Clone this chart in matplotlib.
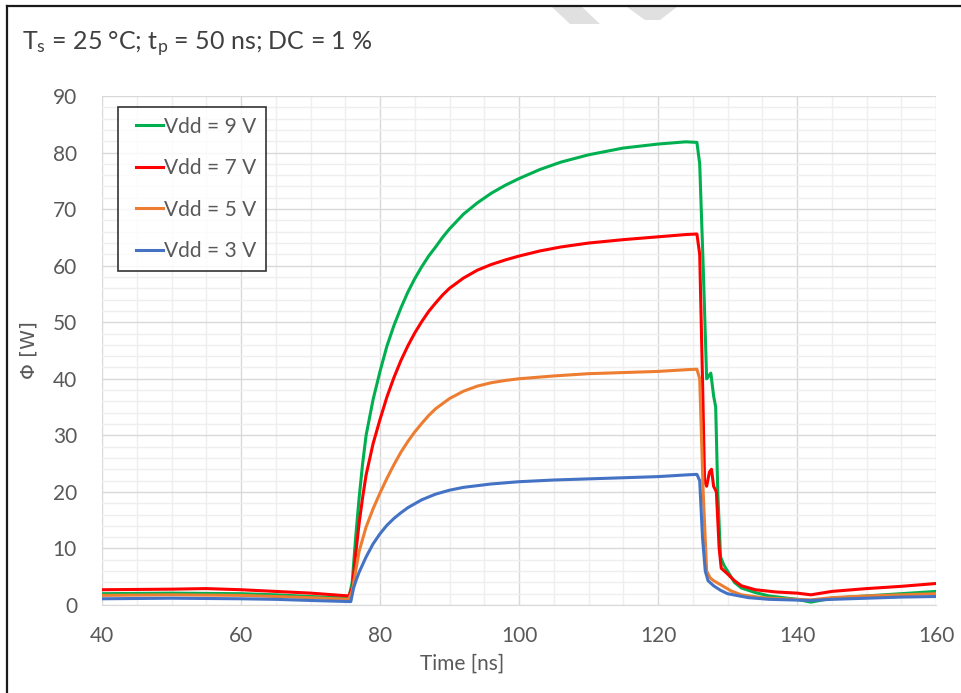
import matplotlib
matplotlib.use('Agg')
import matplotlib.pyplot as plt
from matplotlib.patches import Polygon
from matplotlib.lines import Line2D
from matplotlib.legend_handler import HandlerLine2D
from matplotlib.ticker import MultipleLocator

plt.rcParams['font.family'] = ['Lato', 'DejaVu Sans']
plt.rcParams['mathtext.fontset'] = 'custom'
plt.rcParams['mathtext.rm'] = 'Lato'
plt.rcParams['mathtext.it'] = 'Lato:italic'

# Vdd = 9 V
t_9v = [40, 50, 60, 65, 70, 75.5, 76, 76.5, 77, 77.5, 78, 79, 80, 81, 82, 83, 84, 85,
        86, 87, 88, 89, 90, 92, 94, 96, 98, 100, 103, 106, 110, 115, 120, 124, 125.6,
        126, 126.5, 127, 127.3, 127.6, 128, 128.3, 128.6, 129, 129.5, 130, 131, 132,
        134, 136, 138, 140, 142, 145, 150, 155, 160]
phi_9v = [2.0, 2.1, 2.0, 1.8, 1.5, 1.2, 4, 12, 19, 25, 30, 36.3, 41.3, 45.8, 49.4, 52.5,
          55.3, 57.7, 59.8, 61.7, 63.3, 65.0, 66.5, 69.1, 71.1, 72.8, 74.2, 75.4, 77,
          78.3, 79.6, 80.8, 81.5, 81.9, 81.8, 78, 60, 40, 40.5, 41, 37, 35, 20, 8.5,
          7, 6, 4, 3, 2.2, 1.6, 1.3, 1.0, 0.5, 1.2, 1.6, 2.0, 2.4]

# Vdd = 7 V
t_7v = [40, 50, 55, 60, 65, 70, 75.5, 76, 76.5, 77, 77.5, 78, 79, 80, 81, 82, 83, 84,
        85, 86, 87, 88, 89, 90, 92, 94, 96, 98, 100, 103, 106, 110, 115, 120, 124,
        125.6, 126, 126.4, 126.7, 127, 127.4, 127.7, 128, 128.4, 128.8, 129.1, 130,
        131, 132, 134, 137, 140, 142, 145, 150, 155, 160]
phi_7v = [2.7, 2.8, 2.9, 2.7, 2.4, 2.1, 1.6, 3, 9, 14.5, 19, 23, 28.5, 32.8, 36.8, 40.2,
          43.2, 45.8, 48.1, 50.1, 51.9, 53.4, 54.8, 56, 57.8, 59.2, 60.2, 61, 61.7,
          62.6, 63.3, 64, 64.6, 65.1, 65.5, 65.6, 62, 40, 22, 21, 23.5, 24, 21, 20, 10,
          6.5, 5.5, 4.3, 3.4, 2.7, 2.3, 2.1, 1.8, 2.4, 2.9, 3.3, 3.8]

# Vdd = 5 V
t_5v = [40, 50, 60, 65, 70, 75.5, 76, 76.5, 77, 78, 79, 80, 81, 82, 83, 84, 85, 86,
        87, 88, 90, 92, 94, 96, 98, 100, 105, 110, 115, 120, 124, 125.6, 126, 126.5,
        127, 127.5, 128, 129.4, 130.5, 132, 135, 138, 140, 142, 145, 150, 155, 160]
phi_5v = [1.7, 1.8, 1.7, 1.5, 1.3, 1.0, 2.5, 6, 9.5, 13.8, 17, 19.8, 22.4, 24.8, 27,
          28.9, 30.6, 32.1, 33.5, 34.7, 36.5, 37.8, 38.7, 39.3, 39.7, 40, 40.5, 40.9,
          41.1, 41.3, 41.6, 41.7, 40, 20, 6, 4.8, 4.3, 3.3, 2.5, 1.8, 1.3, 1.1, 1.0,
          0.9, 1.3, 1.6, 1.8, 2.0]

# Vdd = 3 V
t_3v = [40, 50, 60, 65, 70, 75.8, 76.2, 76.6, 77, 78, 79, 80, 81, 82, 83, 84, 85, 86,
        88, 90, 92, 94, 96, 98, 100, 105, 110, 115, 120, 124, 125.6, 126, 126.4, 126.8,
        127.2, 128, 129, 130, 133, 136, 139, 142, 145, 150, 155, 160]
phi_3v = [1.1, 1.2, 1.1, 1.0, 0.8, 0.6, 3, 4.5, 5.8, 8.5, 10.8, 12.6, 14.1, 15.3, 16.3,
          17.2, 17.9, 18.6, 19.6, 20.3, 20.8, 21.1, 21.4, 21.6, 21.8, 22.1, 22.3, 22.5,
          22.7, 23.0, 23.1, 22, 12, 6, 4.3, 3.4, 2.6, 2.0, 1.3, 1.0, 0.9, 0.8, 1.0,
          1.2, 1.4, 1.5]

series = [
    ('Vdd = 9 V', t_9v, phi_9v, '#00B050'),
    ('Vdd = 7 V', t_7v, phi_7v, '#FF0000'),
    ('Vdd = 5 V', t_5v, phi_5v, '#ED7D31'),
    ('Vdd = 3 V', t_3v, phi_3v, '#4472C4'),
]

text_grey = '#595959'

fig = plt.figure(figsize=(9.61, 6.93), dpi=100)
ax = fig.add_axes([102 / 961, 88 / 693, 834 / 961, 509 / 693])

for label, t, phi, colour in series:
    ax.plot(t, phi, color=colour, lw=2.2, label=label, solid_joinstyle='round')

ax.set_xlim(40, 160)
ax.set_ylim(0, 90)
ax.xaxis.set_major_locator(MultipleLocator(20))
ax.xaxis.set_minor_locator(MultipleLocator(5))
ax.yaxis.set_major_locator(MultipleLocator(10))
ax.yaxis.set_minor_locator(MultipleLocator(2))
ax.grid(which='major', color='#d9d9d9', lw=1.0)
ax.grid(which='minor', color='#efefef', lw=1.0)
ax.set_axisbelow(True)
ax.tick_params(which='both', length=0, labelsize=15, labelcolor=text_grey)
ax.tick_params(axis='x', pad=15)
ax.tick_params(axis='y', pad=18)
for side in ['top', 'right', 'left']:
    ax.spines[side].set_visible(False)
ax.spines['bottom'].set_color('#d9d9d9')

ax.set_xlabel('Time [ns]', fontsize=15, color=text_grey)
ax.xaxis.set_label_coords((462 - 102) / 834, -0.095)
ax.set_ylabel('Φ [W]', fontsize=14.5, color=text_grey, family=['DejaVu Sans'])
ax.yaxis.set_label_coords(-(102 - 38) / 834, 0.5)

leg = ax.legend(loc='upper left', bbox_to_anchor=(16 / 834, 1 - 11 / 509),
                fontsize=15, frameon=True, fancybox=False, handlelength=1.7,
                handletextpad=0.05, labelspacing=1.03, borderpad=0.47,
                borderaxespad=0, handler_map={Line2D: HandlerLine2D(xpad=0.4)})
leg.get_frame().set_edgecolor('black')
leg.get_frame().set_linewidth(1.2)
for txt in leg.get_texts():
    txt.set_color(text_grey)

fig.text(22 / 961, 1 - 44 / 693,
         r'T$_\mathregular{s}$ = 25 °C; t$_\mathregular{p}$ = 50 ns; DC = 1 %',
         fontsize=18, color='#404040', va='center', ha='left')

# figure border (top and left only) and watermark fragments
fig.add_artist(Line2D([7 / 961, 1], [1 - 6 / 693, 1 - 6 / 693], color='#1a1a1a', lw=1.6))
fig.add_artist(Line2D([7 / 961, 7 / 961], [0, 1 - 6 / 693], color='#1a1a1a', lw=1.6))
for pts in ([(552, 7), (582, 7), (600, 24), (570, 24)],
            [(627, 7), (677, 7), (660, 20), (645, 20)]):
    fig.patches.append(Polygon([(x / 961, 1 - y / 693) for x, y in pts],
                               closed=True, transform=fig.transFigure,
                               facecolor='#e0e0e0', edgecolor='none'))

fig.savefig('out.png', dpi=100)
